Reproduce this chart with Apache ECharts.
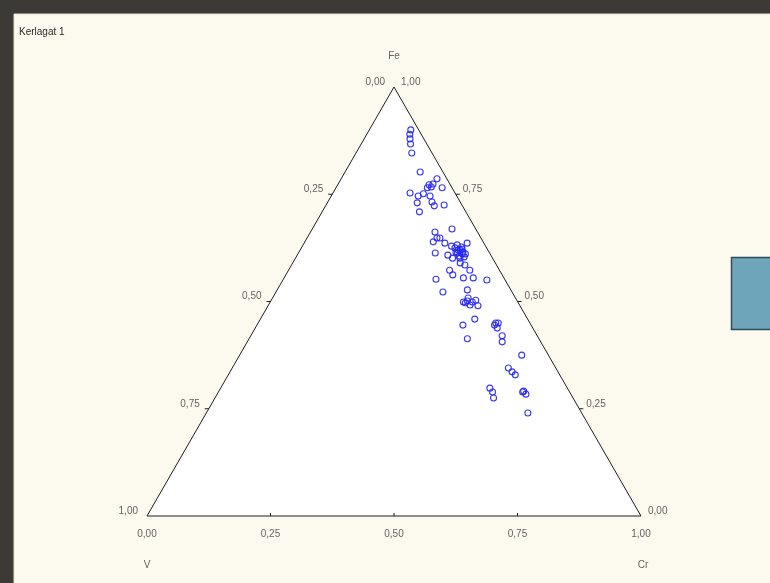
<!DOCTYPE html>
<html>
<head>
<meta charset="utf-8">
<script src="https://cdn.jsdelivr.net/npm/echarts@6/dist/echarts.min.js"></script>
<style>
html,body{margin:0;padding:0;background:#3b3a37;}
#chart{width:770px;height:583px;}
</style>
</head>
<body>
<div id="chart"></div>
<script>
// ---- data (ternary compositions) ----
const chartTitle = 'Kerlagat 1';
const axisNames = ['V', 'Cr', 'Fe'];
const tickValues = [0, 0.25, 0.5, 0.75, 1];
const tickLabels = ['0,00', '0,25', '0,50', '0,75', '1,00'];

const feValues = [0.900,0.890,0.879,0.867,0.846,0.802,0.786,0.772,0.765,0.765,
  0.753,0.746,0.751,0.746,0.730,0.732,0.723,0.725,0.709,0.662,
  0.669,0.639,0.648,0.636,0.632,0.620,0.611,0.613,0.604,0.636,
  0.613,0.608,0.601,0.590,0.585,0.573,0.573,0.552,0.562,0.555,
  0.555,0.550,0.522,0.527,0.508,0.499,0.499,0.503,0.490,0.445,
  0.459,0.413,0.445,0.450,0.438,0.420,0.406,0.375,0.345,0.336,
  0.329,0.298,0.289,0.275,0.289,0.284,0.240,0.497,0.492,
  0.625,0.620,0.627,0.615,0.606,0.615,0.622,0.601,0.629,0.611,
  0.767,0.774,0.501,0.450,0.291,0.648];
const crValues = [0.084,0.087,0.093,0.100,0.113,0.152,0.194,0.185,0.185,0.215,
  0.156,0.176,0.184,0.200,0.182,0.211,0.220,0.239,0.197,0.252,
  0.283,0.260,0.269,0.285,0.312,0.324,0.333,0.322,0.340,0.330,
  0.277,0.305,0.318,0.339,0.351,0.326,0.367,0.309,0.338,0.363,
  0.383,0.413,0.338,0.385,0.396,0.391,0.409,0.414,0.425,0.417,
  0.434,0.442,0.481,0.486,0.490,0.509,0.516,0.571,0.559,0.571,
  0.581,0.545,0.555,0.564,0.616,0.625,0.651,0.396,0.408,
  0.311,0.320,0.323,0.332,0.329,0.318,0.327,0.333,0.302,0.339,
  0.192,0.192,0.398,0.481,0.617,0.263];
const vValues = [0.016,0.023,0.028,0.033,0.041,0.046,0.020,0.043,0.050,0.020,
  0.091,0.078,0.065,0.054,0.088,0.057,0.057,0.036,0.094,0.086,
  0.048,0.101,0.083,0.079,0.056,0.056,0.056,0.065,0.056,0.034,
  0.110,0.087,0.081,0.071,0.064,0.101,0.060,0.139,0.100,0.082,
  0.062,0.037,0.140,0.088,0.096,0.110,0.092,0.083,0.085,0.138,
  0.107,0.145,0.074,0.064,0.072,0.071,0.078,0.054,0.096,0.093,
  0.090,0.157,0.156,0.161,0.095,0.091,0.109,0.107,0.100,
  0.064,0.060,0.050,0.053,0.065,0.067,0.051,0.066,0.069,0.050,
  0.041,0.034,0.101,0.069,0.092,0.089];

// ---- ternary -> cartesian helper (Cr to the right, Fe up, V bottom-left) ----
const H = Math.sqrt(3) / 2;
function tern(v, cr, fe) {
  const s = v + cr + fe;
  cr /= s; fe /= s;
  return [cr + fe / 2, fe * H];
}

const points = feValues.map((fe, i) => tern(vValues[i], crValues[i], fe));

const labelFont = { fontFamily: 'Liberation Sans, Arial, sans-serif', fontSize: 10, color: '#3a3a3a' };

// tick label anchors on the three sides
const bottomLabels = tickValues.map((t, i) => ({ value: tern(1 - t, t, 0), name: tickLabels[i] }));
const leftLabels = tickValues.map((t, i) => ({ value: tern(t, 0, 1 - t), name: tickLabels[i] }));
const rightLabels = tickValues.map((t, i) => ({ value: tern(0, 1 - t, t), name: tickLabels[i] }));

function labelSeries(data, position, distance, offset) {
  return {
    type: 'scatter', data: data, symbolSize: 0, silent: true, z: 4,
    label: Object.assign({ show: true, position: position, distance: distance, offset: offset,
      formatter: p => p.name }, labelFont)
  };
}

const chart = echarts.init(document.getElementById('chart'));
chart.setOption({
  backgroundColor: '#3b3a37',
  animation: false,
  graphic: [
    { type: 'rect', z: -10, shape: { x: 14, y: 14, width: 760, height: 575 },
      style: { fill: '#fcf9ef', stroke: '#e6e1d3', lineWidth: 1 } },
    { type: 'rect', z: -9, shape: { x: 731.5, y: 257.5, width: 45, height: 72 },
      style: { fill: '#6fa5bb', stroke: '#2f4e5c', lineWidth: 1.5 } },
    { type: 'text', left: 19, top: 27,
      style: { text: chartTitle, fill: '#2a2a2a', font: '10px "Liberation Sans", Arial, sans-serif' } }
  ],
  grid: { left: 147, top: 87, width: 494, height: 429 },
  xAxis: { type: 'value', min: 0, max: 1, show: false },
  yAxis: { type: 'value', min: 0, max: H, show: false },
  series: [
    {
      type: 'custom', z: 1, silent: true, data: [[0, 0]],
      renderItem: function (params, api) {
        const A = api.coord(tern(1, 0, 0)), B = api.coord(tern(0, 1, 0)), C = api.coord(tern(0, 0, 1));
        const children = [{
          type: 'polygon', shape: { points: [A, C, B] },
          style: { fill: '#ffffff', stroke: '#1e1e1e', lineWidth: 1 }
        }];
        tickValues.slice(1, 4).forEach(t => {
          const pl = api.coord(tern(t, 0, 1 - t));
          const pr = api.coord(tern(0, 1 - t, t));
          const pb = api.coord(tern(1 - t, t, 0));
          children.push({ type: 'line', shape: { x1: pl[0], y1: pl[1], x2: pl[0] - 4, y2: pl[1] }, style: { stroke: '#1e1e1e', lineWidth: 1 } });
          children.push({ type: 'line', shape: { x1: pr[0], y1: pr[1], x2: pr[0] + 4, y2: pr[1] }, style: { stroke: '#1e1e1e', lineWidth: 1 } });
          children.push({ type: 'line', shape: { x1: pb[0], y1: pb[1], x2: pb[0], y2: pb[1] - 3 }, style: { stroke: '#1e1e1e', lineWidth: 1 } });
        });
        return { type: 'group', children: children };
      }
    },
    {
      type: 'scatter', z: 3, data: points, symbol: 'circle', symbolSize: 6,
      itemStyle: { color: 'rgba(255,255,255,0)', borderColor: '#2424f2', borderWidth: 1.1, opacity: 0.9 }
    },
    labelSeries(bottomLabels, 'bottom', 13, [0, 0]),
    labelSeries(leftLabels, 'left', 9, [0, -5]),
    labelSeries(rightLabels, 'right', 7, [0, -5]),
    {
      type: 'scatter', symbolSize: 0, silent: true, z: 4,
      data: [
        { value: tern(1, 0, 0), name: axisNames[0], off: [0, 49] },
        { value: tern(0, 1, 0), name: axisNames[1], off: [2, 49] },
        { value: tern(0, 0, 1), name: axisNames[2], off: [0, -31] }
      ].map(d => ({ value: d.value, name: d.name,
        label: { show: true, position: 'inside', offset: d.off, formatter: p => p.name } })),
      label: Object.assign({ show: true }, labelFont)
    }
  ]
});
</script>
</body>
</html>
